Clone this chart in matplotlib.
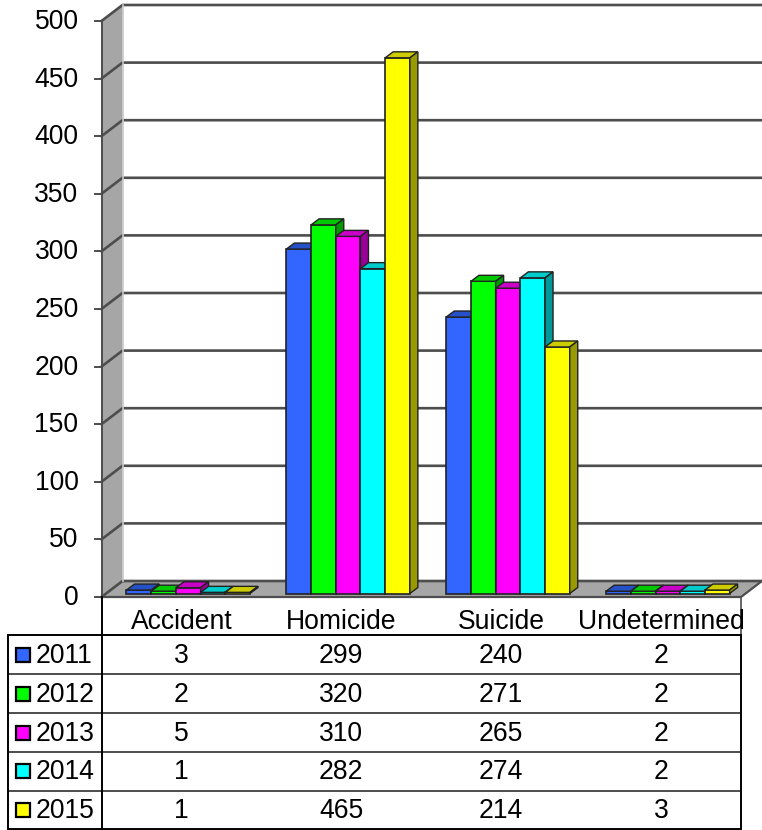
"""
Grafico de barras 3D falso con tabla de datos abajo
"""
import matplotlib
matplotlib.use('Agg')
import matplotlib.pyplot as plt
from matplotlib.patches import Rectangle

plt.rcParams['font.family'] = ['Liberation Sans', 'DejaVu Sans']

categories = ['Accident', 'Homicide', 'Suicide', 'Undetermined']
years = ['2011', '2012', '2013', '2014', '2015']
values_2011 = [3, 299, 240, 2]
values_2012 = [2, 320, 271, 2]
values_2013 = [5, 310, 265, 2]
values_2014 = [1, 282, 274, 2]
values_2015 = [1, 465, 214, 3]
y_ticks = [0, 50, 100, 150, 200, 250, 300, 350, 400, 450, 500]

series = [values_2011, values_2012, values_2013, values_2014, values_2015]
front_colors = ['#3366ff', '#00ff00', '#ff00ff', '#00ffff', '#ffff00']
top_colors = ['#2650c8', '#00c800', '#c800c8', '#00cccc', '#cccc00']
side_colors = ['#1f3f99', '#009900', '#990099', '#009999', '#999900']

W, H = 762, 830
LEFT, RIGHT = 101.5, 741
ZERO_Y, TOP_Y = 597, 21
BACK_DX, BACK_DY = 21, -16
ROWS = [635, 674, 713, 752, 790.5, 829]
LINE = '#4d4d4d'
FONT = 19.1

fig = plt.figure(figsize=(W / 100, H / 100), dpi=100, facecolor='white')

# Capa en pixeles: paredes, rejilla y tabla
bg = fig.add_axes([0, 0, 1, 1], zorder=1)
bg.set_xlim(0, W)
bg.set_ylim(H, 0)
bg.axis('off')

# Capa con los datos: x = categoria, y = valor
ax = fig.add_axes([LEFT / W, 1 - ZERO_Y / H, (RIGHT - LEFT) / W, (ZERO_Y - TOP_Y) / H],
                  zorder=2)
ax.set_xlim(0, len(categories))
ax.set_ylim(0, y_ticks[-1])
ax.axis('off')
ax.patch.set_alpha(0)

px_x = len(categories) / (RIGHT - LEFT)
px_y = y_ticks[-1] / (ZERO_Y - TOP_Y)

# Paredes
bg.fill([LEFT, LEFT + BACK_DX, LEFT + BACK_DX, LEFT],
        [TOP_Y, TOP_Y + BACK_DY, ZERO_Y + BACK_DY, ZERO_Y], color='#a6a6a6', lw=0)
bg.fill([LEFT, LEFT + BACK_DX, W, RIGHT],
        [ZERO_Y, ZERO_Y + BACK_DY, ZERO_Y + BACK_DY, ZERO_Y], color='#a6a6a6', lw=0)

# Rejilla
for t in y_ticks:
    y = ZERO_Y - t / px_y
    bg.plot([LEFT, LEFT + BACK_DX, W], [y, y + BACK_DY, y + BACK_DY], color=LINE, lw=1.9)
    bg.plot([LEFT - 7, LEFT], [y, y], color=LINE, lw=1.4)
    bg.text(78.5, y + 1, str(t), ha='right', va='center', fontsize=FONT, color='black')

bg.plot([LEFT + BACK_DX] * 2, [TOP_Y + BACK_DY, ZERO_Y + BACK_DY], color='#c8c8c8', lw=1.2)
bg.plot([LEFT, LEFT], [TOP_Y, ZERO_Y], color=LINE, lw=1.4)
bg.plot([LEFT, RIGHT, W], [ZERO_Y, ZERO_Y, ZERO_Y + BACK_DY], color=LINE, lw=1.6)

# Barras con cara frontal, superior y lateral
bar_w = 24.7 * px_x
shift_x = 6.8 * px_x
shift_y = 3.5 * px_y
depth_x = 8 * px_x
depth_y = 6 * px_y

for i, cat in enumerate(categories):
    start = i + 0.5 + shift_x - 2.5 * bar_w
    for j, vals in enumerate(series):
        x0 = start + j * bar_w
        x1 = x0 + bar_w
        top = vals[i] + shift_y
        ax.bar(x0, vals[i], width=bar_w, bottom=shift_y, align='edge',
               color=front_colors[j], edgecolor='#222222', linewidth=1.2,
               zorder=3 + j, clip_on=False)
        ax.fill([x0, x0 + depth_x, x1 + depth_x, x1],
                [top, top + depth_y, top + depth_y, top],
                facecolor=top_colors[j], edgecolor='#222222', linewidth=1.0,
                zorder=3 + j, clip_on=False)
        ax.fill([x1, x1 + depth_x, x1 + depth_x, x1],
                [shift_y, shift_y + depth_y, top + depth_y, top],
                facecolor=side_colors[j], edgecolor='#222222', linewidth=1.0,
                zorder=3 + j, clip_on=False)

# Tabla
cat_w = (RIGHT - LEFT) / len(categories)
for i, cat in enumerate(categories):
    bg.text(LEFT + cat_w * (i + 0.5), 622, cat, ha='center', va='center',
            fontsize=FONT, color='black')

for k, y in enumerate(ROWS):
    is_outer = k in (0, len(ROWS) - 1)
    bg.plot([8, RIGHT], [y, y], color='black' if is_outer else LINE,
            lw=1.4, solid_capstyle='butt')
bg.plot([8, 8], [ROWS[0], ROWS[-1]], color='black', lw=1.4)
bg.plot([LEFT, LEFT], [ZERO_Y, ROWS[-1]], color='black', lw=1.4)
bg.plot([RIGHT, RIGHT], [ZERO_Y, ROWS[0]], color=LINE, lw=1.2)
bg.plot([RIGHT, RIGHT], [ROWS[0], ROWS[-1]], color='black', lw=1.4)

for j, year in enumerate(years):
    yc = (ROWS[j] + ROWS[j + 1]) / 2
    bg.add_patch(Rectangle((16, yc - 7), 14, 14, facecolor=front_colors[j],
                           edgecolor='black', linewidth=1.6))
    bg.text(35.5, yc + 1, year, ha='left', va='center', fontsize=FONT, color='black')
    for i in range(len(categories)):
        bg.text(LEFT + cat_w * (i + 0.5), yc + 1, str(series[j][i]), ha='center',
                va='center', fontsize=FONT, color='black')

plt.savefig('out.png', dpi=100)
